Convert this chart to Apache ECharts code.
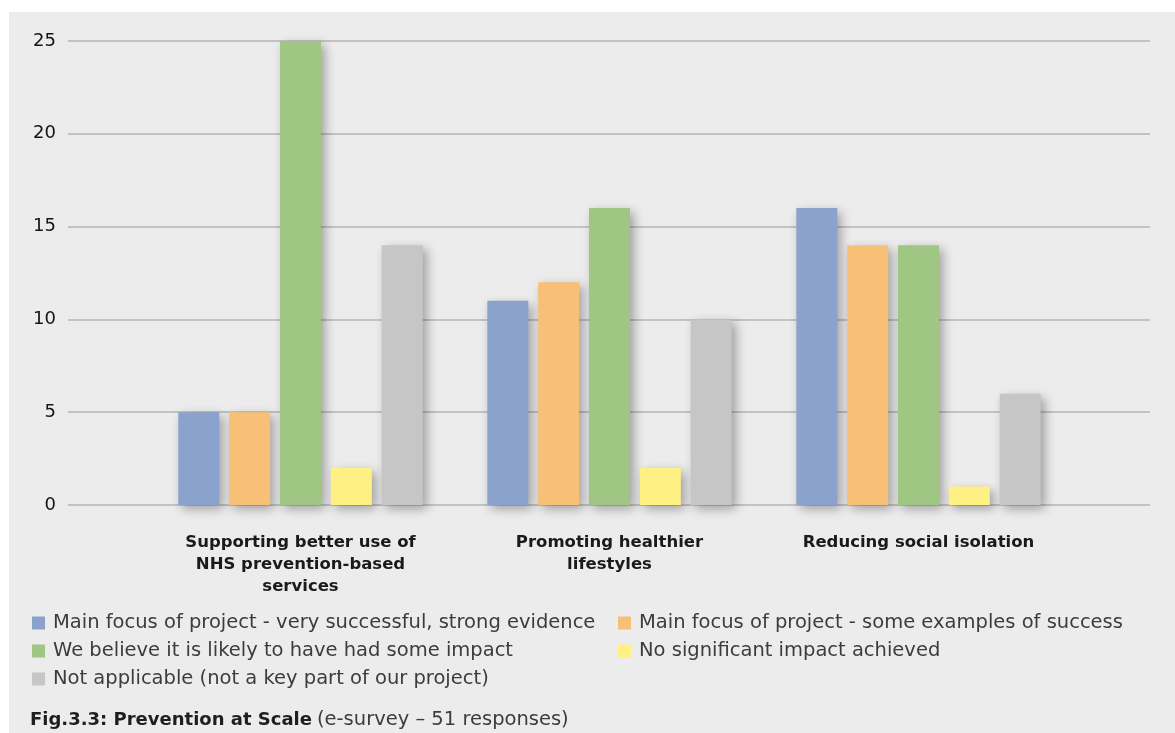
<!DOCTYPE html>
<html>
<head>
<meta charset="utf-8">
<style>
  html, body { margin: 0; padding: 0; background: #ffffff; }
  #chart { width: 1175px; height: 733px; }
</style>
<script src="https://cdn.jsdelivr.net/npm/echarts@6/dist/echarts.min.js"></script>
</head>
<body>
<div id="chart"></div>
<script>
// Survey outcome areas (x-axis categories)
const categories = [
  'Supporting better use of\nNHS prevention-based\nservices',
  'Promoting healthier\nlifestyles',
  'Reducing social isolation'
];

// Response categories (legend)
const seriesNames = [
  'Main focus of project - very successful, strong evidence',
  'Main focus of project - some examples of success',
  'We believe it is likely to have had some impact',
  'No significant impact achieved',
  'Not applicable (not a key part of our project)'
];

// Number of responses per outcome area
const verySuccessful = [5, 11, 16];
const someSuccess    = [5, 12, 14];
const someImpact     = [25, 16, 14];
const noImpact       = [2, 2, 1];
const notApplicable  = [14, 10, 6];

const yTicks = { min: 0, max: 25, interval: 5 };

const colors = ['#8aa2cc', '#f8c077', '#9fc683', '#fef083', '#c6c6c6'];
const seriesValues = [verySuccessful, someSuccess, someImpact, noImpact, notApplicable];

const chart = echarts.init(document.getElementById('chart'), null, { renderer: 'canvas' });

const barShadow = {
  shadowBlur: 10,
  shadowColor: 'rgba(0,0,0,0.32)',
  shadowOffsetX: 4,
  shadowOffsetY: 4
};

// Legend placement: two columns, three rows
const legendSlots = [
  { left: 32, top: 613 },
  { left: 618, top: 613 },
  { left: 32, top: 641 },
  { left: 618, top: 641 },
  { left: 32, top: 669 }
];

const legendText = {
  fontFamily: '"DejaVu Sans", sans-serif',
  fontSize: 19.5,
  color: '#3c3c3c',
  padding: [0, 0, 0, 3]
};

const option = {
  backgroundColor: '#ffffff',
  animation: false,
  color: colors,
  graphic: [{
    type: 'rect',
    z: -100,
    silent: true,
    shape: { x: 9, y: 12, width: 1166, height: 721 },
    style: { fill: '#ececec' }
  }],
  title: {
    left: 30,
    top: 710,
    padding: 0,
    text: '{b|Fig.3.3: Prevention at Scale} {n|(e-survey – 51 responses)}',
    textStyle: {
      rich: {
        b: { fontFamily: '"DejaVu Sans", sans-serif', fontWeight: 'bold', fontSize: 18, color: '#1e1e1e' },
        n: { fontFamily: '"DejaVu Sans", sans-serif', fontWeight: 'normal', fontSize: 19.5, color: '#3c3c3c' }
      }
    }
  },
  legend: seriesNames.map((name, i) => ({
    data: [name],
    left: legendSlots[i].left,
    top: legendSlots[i].top,
    icon: 'rect',
    itemWidth: 13,
    itemHeight: 13,
    itemGap: 8,
    padding: 0,
    selectedMode: false,
    textStyle: legendText
  })),
  grid: [
    // gridline frame
    { left: 68, right: 25, top: 41, bottom: 228 },
    // bar area
    { left: 146, right: 102, top: 41, bottom: 228 }
  ],
  xAxis: [
    { gridIndex: 0, type: 'value', min: 0, max: 1, show: false },
    {
      gridIndex: 1,
      type: 'category',
      data: categories,
      axisLine: { show: false },
      axisTick: { show: false },
      axisLabel: {
        margin: 27,
        interval: 0,
        fontFamily: '"DejaVu Sans", sans-serif',
        fontWeight: 'bold',
        fontSize: 16.5,
        lineHeight: 22,
        color: '#1a1a1a'
      }
    }
  ],
  yAxis: [
    {
      gridIndex: 0,
      type: 'value',
      min: yTicks.min,
      max: yTicks.max,
      interval: yTicks.interval,
      axisLine: { show: false },
      axisTick: { show: false },
      axisLabel: {
        margin: 12,
        fontFamily: '"DejaVu Sans", sans-serif',
        fontSize: 18,
        color: '#141414'
      },
      splitLine: { lineStyle: { color: '#c2c2c2', width: 2 } }
    },
    {
      gridIndex: 1,
      type: 'value',
      min: yTicks.min,
      max: yTicks.max,
      interval: yTicks.interval,
      show: false,
      splitLine: { show: false }
    }
  ],
  series: seriesNames.map((name, i) => ({
    name: name,
    type: 'bar',
    xAxisIndex: 1,
    yAxisIndex: 1,
    data: seriesValues[i],
    barWidth: 41,
    barGap: '24%',
    itemStyle: Object.assign({ color: colors[i] }, barShadow)
  }))
};

chart.setOption(option);
</script>
</body>
</html>
